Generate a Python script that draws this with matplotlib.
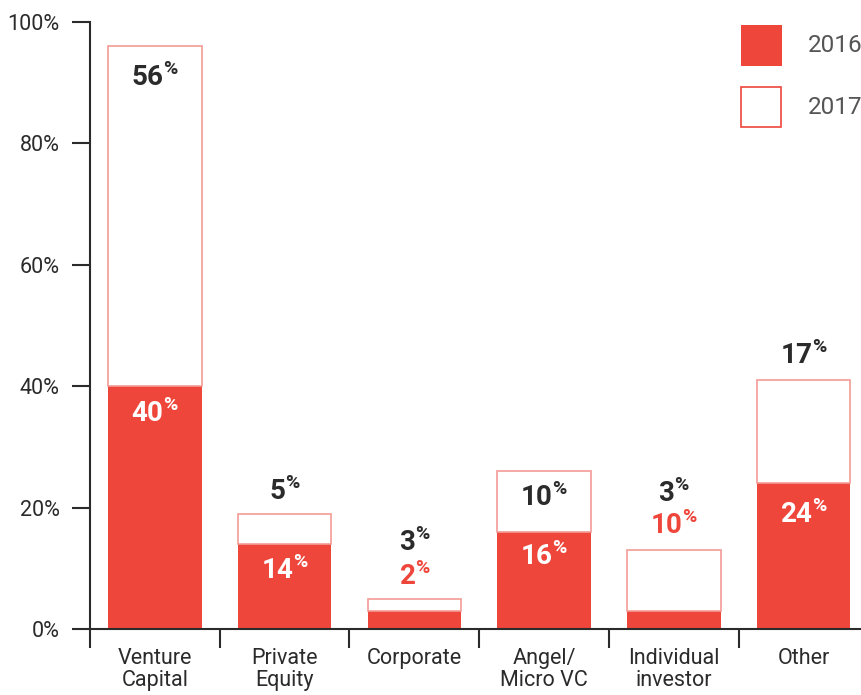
import numpy as np
import matplotlib.pyplot as plt
from matplotlib.patches import Rectangle

categories = ["Venture\nCapital", "Private\nEquity", "Corporate", "Angel/\nMicro VC",
              "Individual\ninvestor", "Other"]
share_2016 = [40, 14, 3, 16, 3, 24]
share_2017 = [56, 5, 2, 10, 10, 17]
# labels as printed on the chart (black = top, red/white = lower)
label_top = ["56", "5", "3", "10", "3", "17"]
label_low = ["40", "14", "2", "16", "10", "24"]
yticks = [0, 20, 40, 60, 80, 100]

RED = "#EF463C"
EDGE = "#F39C96"
DARK = "#2b2b2b"

plt.rcParams['font.family'] = ['Roboto', 'DejaVu Sans']
plt.rcParams['mathtext.fontset'] = 'custom'
plt.rcParams['mathtext.bf'] = 'Roboto:bold'
plt.rcParams['mathtext.rm'] = 'Roboto'

fig = plt.figure(figsize=(8.62, 6.95), dpi=100)
ax = fig.add_axes([90 / 862, 66 / 695, 1 - 90 / 862, (629 - 22) / 695])

x = np.arange(len(categories))
w = 0.72
ax.bar(x, share_2016, w, color=RED, edgecolor=RED, linewidth=0, zorder=2)
ax.bar(x, share_2017, w, bottom=share_2016, color="white", edgecolor=EDGE,
       linewidth=1.2, zorder=2)


def pct(s):
    return r"$\mathbf{" + s + r"}^{\mathbf{\%}}$"


# label placement (data y)
top_y = [90.8, 22.6, 14.2, 21.7, 22.4, 45.1]
low_y = [35.6, 9.7, 8.7, 12.0, 17.1, 18.9]
low_col = ["white", "white", RED, "white", RED, "white"]
for i in range(len(categories)):
    ax.text(x[i], top_y[i], pct(label_top[i]), ha="center", va="center",
            fontsize=20, color=DARK, zorder=3)
    ax.text(x[i], low_y[i], pct(label_low[i]), ha="center", va="center",
            fontsize=20, color=low_col[i], zorder=3)

ax.set_yticks(yticks)
ax.set_yticklabels([f"{t}%" for t in yticks])
ax.set_xticks(x)
ax.set_xticklabels(categories, linespacing=1.05)
ax.set_xticks(np.arange(-0.5, 5, 1), minor=True)
ax.set_xlim(-0.5, 5.45)
ax.set_ylim(0, 100)

for s in ["top", "right"]:
    ax.spines[s].set_visible(False)
for s in ["left", "bottom"]:
    ax.spines[s].set_color(DARK)
    ax.spines[s].set_linewidth(1.5)

ax.tick_params(axis="y", length=13, width=1.5, color=DARK, pad=9,
               labelsize=15.5, labelcolor=DARK)
ax.tick_params(axis="x", which="major", length=0, pad=14, labelsize=15.5,
               labelcolor=DARK)
ax.tick_params(axis="x", which="minor", length=14, width=1.5, color=DARK)

# legend, partly cut off by the right edge like the original
fig.add_artist(Rectangle((741 / 862, 1 - 66 / 695), 41 / 862, 41 / 695,
                         transform=fig.transFigure, facecolor=RED,
                         edgecolor=RED, linewidth=0))
fig.add_artist(Rectangle((741 / 862, 1 - 127 / 695), 40 / 862, 40 / 695,
                         transform=fig.transFigure, facecolor="white",
                         edgecolor=RED, linewidth=1.2))
fig.text(808 / 862, 1 - 46 / 695, "2016", fontsize=17.5, color="#555555",
         va="center", ha="left")
fig.text(808 / 862, 1 - 108 / 695, "2017", fontsize=17.5, color="#555555",
         va="center", ha="left")

fig.savefig("out.png", dpi=100)
